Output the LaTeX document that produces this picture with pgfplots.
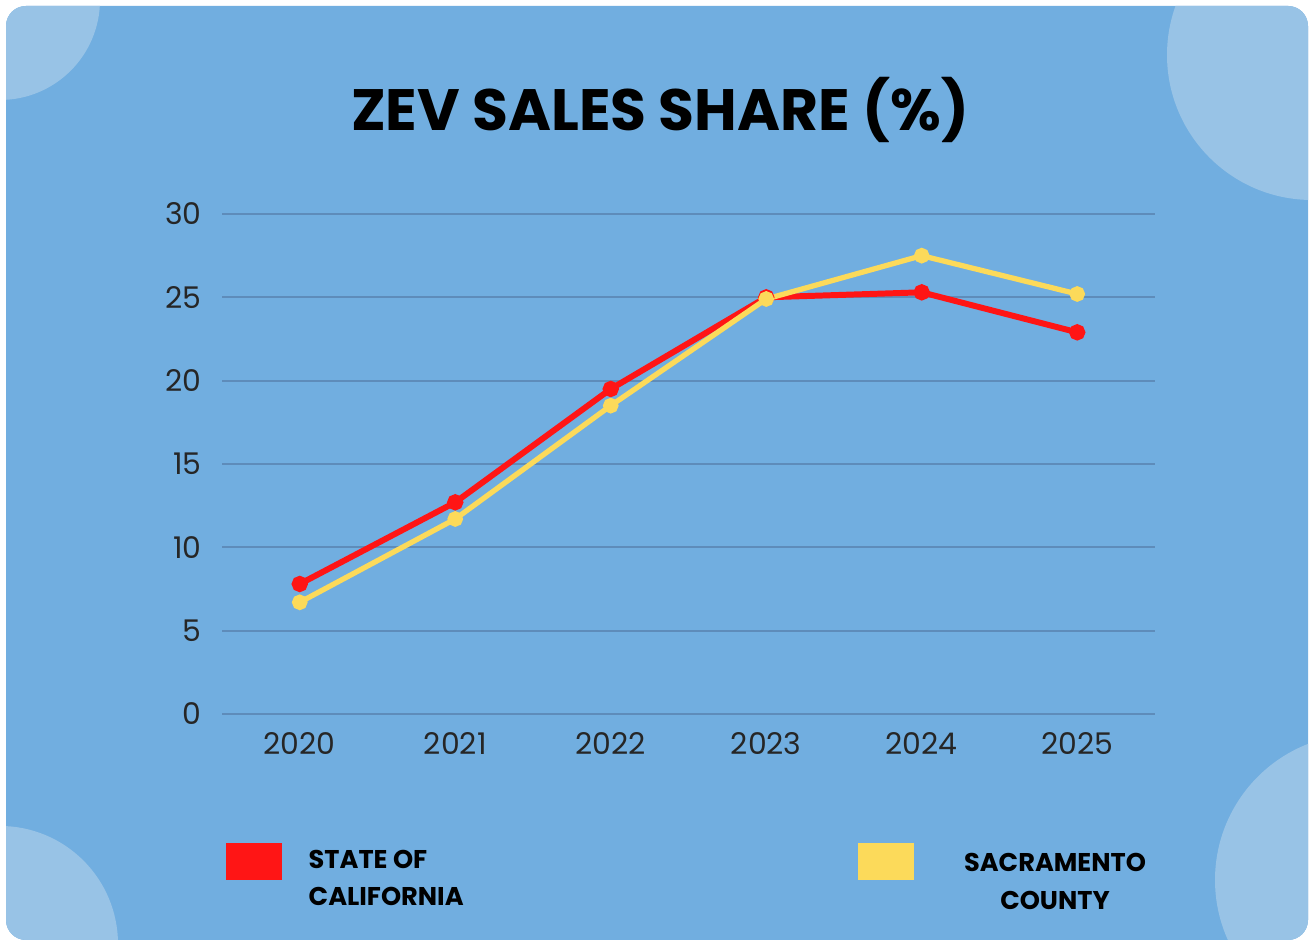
\documentclass[border=0pt]{standalone}
\usepackage{fontspec}
\setmainfont{Poppins}
\usepackage{pgfplots}
\pgfplotsset{compat=1.18}

\definecolor{cardbg}{HTML}{71AEE0}
\definecolor{blob}{HTML}{98C3E6}
\definecolor{gridc}{HTML}{5E8CBA}
\definecolor{stateRed}{HTML}{FF1515}
\definecolor{sacYellow}{HTML}{FCDA5A}

\begin{document}
\begin{tikzpicture}[x=0.1mm,y=0.1mm]
% page and card (1 unit = 1 px of the reference, y upwards)
\path[use as bounding box, fill=white] (0,0) rectangle (1312,944);
\fill[cardbg, rounded corners=2mm] (6,4) rectangle (1308,938);
\begin{scope}
  \clip[rounded corners=2mm] (6,4) rectangle (1308,938);
  \fill[blob] (0,944) circle (100);
  \fill[blob] (1312,889) circle (145);
  \fill[blob] (1361,64) circle (146);
  \fill[blob] (0,0) circle (118);
\end{scope}
\coordinate (plotSW) at (222,230);

\node[font=\fontsize{16.6}{20}\selectfont\bfseries] at (660,834) {ZEV SALES SHARE (\%)};

\begin{axis}[
    at={(plotSW)}, anchor=south west,
    scale only axis,
    width=93.3mm, height=50mm,
    xmin=-0.5, xmax=5.5,
    ymin=0, ymax=30,
    xtick={0,1,2,3,4,5},
    xticklabels={2020,2021,2022,2023,2024,2025},
    ytick={0,5,10,15,20,25,30},
    ymajorgrids,
    grid style={gridc, line width=0.5pt},
    axis line style={draw=none},
    major tick length=0pt,
    tick label style={font=\fontsize{8.5}{10}\selectfont, text=black!85},
    yticklabel style={xshift=-0.8mm},
    xticklabel style={yshift=-0.6mm},
    /pgf/number format/assume math mode=true,
    clip=false,
]
\addplot[stateRed, line width=1.7pt, mark=*, mark size=1.45pt,
  mark options={fill=stateRed, draw=stateRed}]
  coordinates {(0,7.8) (1,12.7) (2,19.5) (3,25.0) (4,25.3) (5,22.9)};
\addplot[sacYellow, line width=1.5pt, mark=*, mark size=1.45pt,
  mark options={fill=sacYellow, draw=sacYellow}]
  coordinates {(0,6.7) (1,11.7) (2,18.5) (3,24.9) (4,27.5) (5,25.2)};
\end{axis}

% legend
\fill[stateRed] (226,64) rectangle (282,101);
\node[anchor=west, align=left, inner sep=0pt,
  font=\fontsize{7.3}{10.5}\selectfont\bfseries] at (308,66)
  {STATE OF\\CALIFORNIA};
\fill[sacYellow] (858,64) rectangle (914,101);
\node[align=center, inner sep=0pt,
  font=\fontsize{7.3}{10.8}\selectfont\bfseries] at (1055,63)
  {SACRAMENTO\\COUNTY};
\end{tikzpicture}
\end{document}
